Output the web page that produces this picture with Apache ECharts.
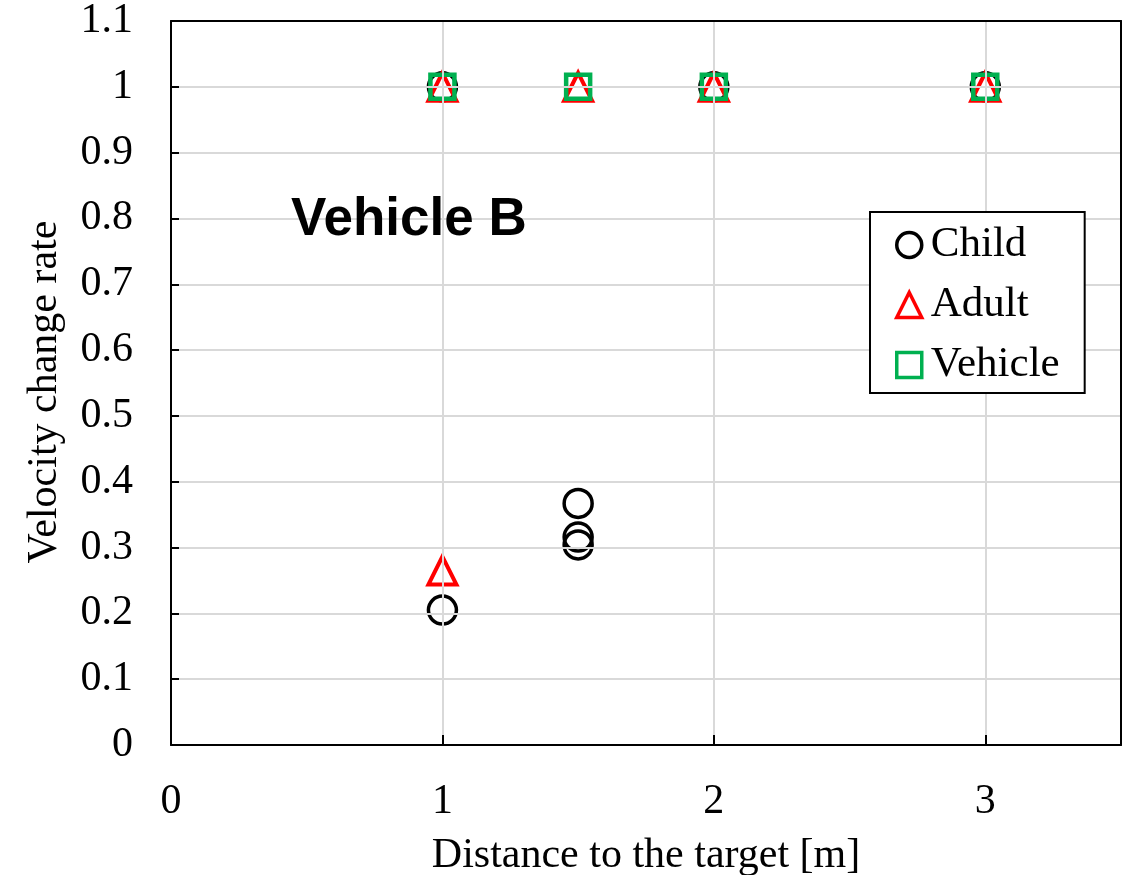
<!DOCTYPE html>
<html>
<head>
<meta charset="utf-8">
<script src="https://cdn.jsdelivr.net/npm/echarts@6/dist/echarts.min.js"></script>
<style>html,body{margin:0;padding:0;background:#fff;}#c{width:1127px;height:875px;}</style>
</head>
<body>
<div id="c"></div>
<script>
const xTickLabels = ['0', '1', '2', '3'];
const yTickLabels = ['0', '0.1', '0.2', '0.3', '0.4', '0.5', '0.6', '0.7', '0.8', '0.9', '1', '1.1'];
const childX = [1, 1.5, 1.5, 1.5, 1, 2, 3];
const childY = [0.205, 0.367, 0.316, 0.304, 1, 1, 1];
const adultX = [1, 1, 1.5, 2, 3];
const adultY = [0.265, 1, 1, 1, 1];
const vehicleX = [1, 1.5, 2, 3];
const vehicleY = [1, 1, 1, 1];

const pairs = (xs, ys) => xs.map((x, i) => [x, ys[i]]);
const serif = '"Liberation Serif", "Times New Roman", serif';
const FS = 42;

const chart = echarts.init(document.getElementById('c'));
chart.setOption({
  animation: false,
  backgroundColor: '#fff',
  title: {
    text: 'Vehicle B', left: 286, top: 189,
    textStyle: { fontFamily: '"Liberation Sans", Arial, sans-serif', fontWeight: 'bold', fontSize: 53, color: '#000' }
  },
  grid: { left: 171, right: 6, top: 21, bottom: 130, containLabel: false, outerBoundsMode: 'none' },
  legend: {
    orient: 'vertical', left: 870, top: 212,
    backgroundColor: '#fff', borderColor: '#000', borderWidth: 2,
    padding: [11, 25, 6, 25],
    itemGap: 16, itemWidth: 25, itemHeight: 25,
    textStyle: { fontFamily: serif, fontSize: 43, color: '#000', lineHeight: 44, padding: [0, 0, 0, 4] },
    data: [
      { name: 'Child', icon: 'circle', itemStyle: { color: '#fff', borderColor: '#000', borderWidth: 3.5 } },
      { name: 'Adult', icon: 'triangle', itemStyle: { color: '#fff', borderColor: '#ff0000', borderWidth: 3.5 } },
      { name: 'Vehicle', icon: 'rect', itemStyle: { color: '#fff', borderColor: '#00b050', borderWidth: 3.5 } }
    ]
  },
  xAxis: [{
    type: 'value', min: 0, max: 3.5, interval: 1,
    name: 'Distance to the target [m]', nameLocation: 'middle', nameGap: 90,
    nameTextStyle: { fontFamily: serif, fontSize: FS, color: '#000' },
    axisLine: { show: true, lineStyle: { color: '#000', width: 2 } },
    axisTick: { show: true, inside: true, length: 10, lineStyle: { color: '#000', width: 2 } },
    axisLabel: {
      margin: 36, fontFamily: serif, fontSize: FS, color: '#000',
      formatter: v => (Number.isInteger(v) && xTickLabels[v] !== undefined) ? xTickLabels[v] : ''
    },
    splitLine: { show: true, lineStyle: { color: '#d9d9d9', width: 2 } },
    z: 3
  }, {
    type: 'value', position: 'top', min: 0, max: 3.5,
    axisLine: { show: true, onZero: false, lineStyle: { color: '#000', width: 2 } },
    axisTick: { show: false }, axisLabel: { show: false }, splitLine: { show: false }, z: 4
  }],
  yAxis: [{
    type: 'value', min: 0, max: 1.1, interval: 0.1,
    name: 'Velocity change rate', nameLocation: 'middle', nameGap: 105,
    nameTextStyle: { fontFamily: serif, fontSize: FS, color: '#000', padding: [0, 18, 0, 0] },
    axisLine: { show: true, lineStyle: { color: '#000', width: 2 } },
    axisTick: { show: true, inside: true, length: 8, lineStyle: { color: '#000', width: 2 } },
    axisLabel: {
      margin: 38, fontFamily: serif, fontSize: FS, color: '#000',
      formatter: v => { const i = Math.round(v * 10); return yTickLabels[i] !== undefined ? yTickLabels[i] : ''; }
    },
    splitLine: { show: true, lineStyle: { color: '#d9d9d9', width: 2 } },
    z: 3
  }, {
    type: 'value', position: 'right', min: 0, max: 1.1,
    axisLine: { show: true, onZero: false, lineStyle: { color: '#000', width: 2 } },
    axisTick: { show: false }, axisLabel: { show: false }, splitLine: { show: false }, z: 4
  }],
  series: [
    { name: 'Child', type: 'scatter', data: pairs(childX, childY), symbol: 'circle', symbolSize: 28,
      itemStyle: { color: 'rgba(0,0,0,0)', borderColor: '#000', borderWidth: 3.5, opacity: 1 } },
    { name: 'Adult', type: 'scatter', data: pairs(adultX, adultY), symbol: 'triangle', symbolSize: 28,
      itemStyle: { color: 'rgba(0,0,0,0)', borderColor: '#ff0000', borderWidth: 4, opacity: 1 } },
    { name: 'Vehicle', type: 'scatter', data: pairs(vehicleX, vehicleY), symbol: 'rect', symbolSize: 24,
      itemStyle: { color: 'rgba(0,0,0,0)', borderColor: '#00b050', borderWidth: 4.5, opacity: 1 } }
  ]
});
</script>
</body>
</html>
